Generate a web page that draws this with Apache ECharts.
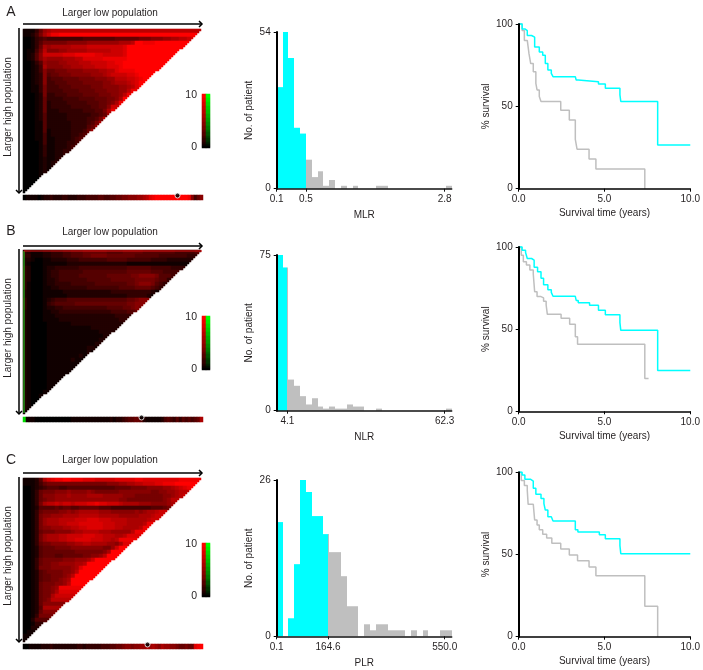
<!DOCTYPE html>
<html>
<head>
<meta charset="utf-8">
<style>html,body{margin:0;padding:0;background:#fff}#main{width:703px;height:670px}</style>
<script src="https://cdn.jsdelivr.net/npm/echarts@6/dist/echarts.min.js"></script>
</head>
<body>
<div id="main"></div>
<script>
// heat maps: one hex digit per cell, read row by row from the triangles (0 black, f full red)
var heatA = [
  '111369abbbbbbbbbbbbbbbbbbbbbbbbbbbbbbbbbbbbbb','11247aceefffffffffffffffffffffffffffffffffff','0013454444444445555555566666677788899aabbcdeff',
  '001357777778888899999999aaabffeeefffffffffffff','00136a9aaaaabbbbcccccccccdfffffffffffffffffff','01147b88899aaaaabbbbbbcccdffffffffffffffffff',
  '01258cccccdddeeeeeddcccccdfffffffffffffffff','01258a9999aaabbdddddeeeeeefffffffffffffff','00135988899aaabbbccccddeeffffffffffffff',
  '00124a888899aaabbbcccdddefffffffffff','0012486677788889999aabbdeeeeffffff','00123856677788888999abccccddeff',
  '00123845556666777788899bbbccdef','00123844555666677777889aaabcdf','00113744455566666777888899abdf',
  '00113744445555666677788899be','0001273344455556666777889be','000126333344445555666778af',
  '00012623333444445556678ae','0001262333334444455668c','000126222333333444557ae',
  '00012522222333333445 69d'.split(' ').join(''),'000125222223333344 57b'.split(' ').join(''),'00011522222233334 57a'.split(' ').join(''),
  '0001152222223333569','000115122222333469','00011412222233458','0001141122223457','000014112223346',
  '00001311222345','0000131122335','000013112234','0000121123','000012123','00001212','0000121','000012','00001','0001','001','01'
];
var heatB = [
  '321112233344555666666555566666555555554444455','331112233344555667777666666655555544444443333','22100112222333444444455555444444333322222222',
  '2100011111122222222222222211111111111111111','3200012233333344444444444455555544444333','3200012334444445555555555566666655544442',
  '32000123344444555555566666677888875554','32000122344444445555556666667777765532','3100012233334444445555555566788875431',
  '310001122333333344444444555566665432','2100011111222222222222333333333321','2100011111122222222222222233333211',
  '310001234445555555555555556678886','310001345555566666666666667788873','31000122334444444444455556678752',
  '2100011223333333333333444455641','210001112222222222222223333432','21000111122222222222222233321',
  '2100001111112222222222222221','210000111111111112222222221','2100001111111111111222221',
  '21000011111111111111221','2100001111111111111221','2100001111111111112 21'.split(' ').join(''),'21000011111111112 21'.split(' ').join(''),
  '210000111111111121','21000011111111 21'.split(' ').join(''),'21000011111121','2100001111111','210000111111','21000011111','2100001111','210000111','21000011','2100001','210001','21001','2100','210','21','1'
];
var heatC = [
  '11125acdeeffeeedddcccccdddddeedddddddddeeeeee','11124677777777777777788899aabbcccddeeefffff','0012345554455555555555566667777888899abcdef',
  '00136777888988889877777788888888778899abb','00136888999a9999aaaa999998887777777889abc','0013678899999999999999998877777777789b',
  '00137abbcbccbcccddeddcccbaaaa99988889a','0012555565665566666555444444444455567a','00136777788989aaaaa999888888989aabc',
  '0013788999aaaabbbbbaaaaa99999aaabc','001379aaabbbbcccdddcccbbbbaaaaabc','001379aaabbcccddddddcccbbbaaaabe',
  '0013788999aabbccddddcccbbaaaabe','0013677788889aabbbbaaa99999be','001379aaabbccccdddccbbbaabd',
  '001379aaabbccddddcccbbabe','0013677888899aabbaaaa998ad','00125666777788888888779cf',
  '001256666666677777778af','00125666556666677889bf','0013677777888999acf',
  '0013677889999aabf','0013777888889adf','0012567777889bf','001256677789bf',
  '0012566778 9af'.split(' ').join(''),'00126777889bf','00126778 9e'.split(' ').join(''),'00126778ad','0012677ac','0012678b','001268','00125a','001268','00137','0025','0013','002','01','1','1'
];
// bottom strips under the triangles, g marks the green end cell
var stripA = '0111101223' + '2223322233' + '3444455445' + '5667788899' + 'abdeffffff' + 'fffffe8468';
var stripB = 'g111000000' + '0000001111' + '1111111112' + '1223455665' + '2111112454' + '353545456a';
var stripC = '0011112223' + '2222222233' + '2333334445' + '5667887889' + '9a9a98a998' + '8766766def';
var dotA = 51, dotB = 39, dotC = 41;
var colorLevels = ['f','f','e','e','d','d','c','c','b','b','a','a','9','9','8','8','7','7','6','5','5','4','3','3','2','1','0'];

// histograms, 30 bins each
var countsMLR = [35,54,45,21,19,10,4,6,1,3,0,1,0,1,0,0,0,1,1,0,0,0,0,0,0,0,0,0,0,1];
var countsNLR = [75,69,15,12,7,3,6,2,1,2,1,1,3,2,2,0,0,1,0,0,0,0,0,0,0,0,0,0,0,1];
var countsPLR = [19,0,3,12,26,24,20,20,17,14,14,10,5,5,0,2,1,2,2,1,1,1,0,1,0,1,0,0,1,1];
var ticksMLR = [0,5,28.8], labelsMLR = ['0.1','0.5','2.8'];
var ticksNLR = [1.83,28.8], labelsNLR = ['4.1','62.3'];
var ticksPLR = [0,8.8,28.8], labelsPLR = ['0.1','164.6','550.0'];
var cutMLR = 5, cutNLR = 1.83, cutPLR = 8.8;

// survival curves, step times and survival after the step
var kmACyanT = [0,0.2,0.36,0.5,0.75,0.93,1.2,1.4,1.55,1.7,1.9,2.0,3.3,3.35,3.47,4.65,5.05,5.9,5.95,8.1,10];
var kmACyanS = [100,97,96,93,92,86,83,81,76,72,70,68,68,66,65,63.5,61,57,53,26.5,26.5];
var kmAGreyT = [0,0.2,0.33,0.5,0.6,0.7,0.85,1.0,1.07,1.2,1.3,2.45,2.95,3.3,3.4,4.1,4.5,7.35];
var kmAGreyS = [100,96,90,89,82,76,71,64,60,56,53,47.7,41.7,30,24,18,12,0];
var kmBCyanT = [0,0.2,0.4,0.5,0.75,0.9,1.1,1.3,1.45,1.7,1.9,2.0,3.3,3.35,3.47,4.13,4.65,5.05,5.9,5.95,8.1,10];
var kmBCyanS = [100,98,96.7,93,92,87.6,85,81,77,74,72.4,70,70,67.5,66,64.5,61.5,58.8,54,49.3,24.8,24.8];
var kmBGreyT = [0,0.15,0.27,0.45,0.65,0.85,0.93,1.07,1.3,1.45,1.6,1.67,2.47,2.97,3.3,3.43,7.35,7.57];
var kmBGreyS = [100,95,91,89,86,83.4,72.8,69.8,69,67,64.7,59,56.6,53,45.4,40.8,20,20];
var kmCCyanT = [0,0.2,0.36,0.7,0.85,1.0,1.3,1.47,1.55,1.7,1.9,2.0,3.3,3.45,4.7,5.05,5.9,5.95,10];
var kmCCyanS = [100,98.4,95.7,94.7,90.3,86.6,84,81,77,73,72,70.4,65,63.7,62,59.6,55.4,50.5,50.5];
var kmCGreyT = [0,0.15,0.33,0.5,0.55,0.85,0.93,1.07,1.2,1.4,1.63,1.93,2.45,2.95,3.43,4.1,4.5,7.35,8.1];
var kmCGreyS = [100,95,92,89,80.5,80,71,68,65,62.3,60,56.8,53.3,49.7,46.2,42.4,37,18.5,0];

var INK = '#231f20', CYAN = '#00ffff', GREY = '#bfbfbf', FONT = '"Liberation Sans", Arial, sans-serif';

function level(ch) {
  return ch === 'g' ? -13 : parseInt(ch, 16);
}
function zip(a, b) {
  return a.map(function (v, i) { return [v, b[i]]; });
}

var panels = [
  { letter: 'A', heat: heatA, strip: stripA, dot: dotA, heatTop: 29, stripTop: 195, barTop: 94, titleY: 13, arrowY: 24, letterY: 12,
    histTop: 32, histBottom: 188.7, kmTop: 24, kmBottom: 188.7, counts: countsMLR, ticks: ticksMLR, labels: labelsMLR, cut: cutMLR, name: 'MLR',
    cyan: zip(kmACyanT, kmACyanS), grey: zip(kmAGreyT, kmAGreyS) },
  { letter: 'B', heat: heatB, strip: stripB, dot: dotB, heatTop: 250, stripTop: 417, barTop: 316, titleY: 232, arrowY: 246, letterY: 231,
    histTop: 255, histBottom: 410.7, kmTop: 247, kmBottom: 411.3, counts: countsNLR, ticks: ticksNLR, labels: labelsNLR, cut: cutNLR, name: 'NLR', edge: true,
    cyan: zip(kmBCyanT, kmBCyanS), grey: zip(kmBGreyT, kmBGreyS) },
  { letter: 'C', heat: heatC, strip: stripC, dot: dotC, heatTop: 478, stripTop: 644, barTop: 543, titleY: 460, arrowY: 473, letterY: 460,
    histTop: 480, histBottom: 636.3, kmTop: 472.3, kmBottom: 636.7, counts: countsPLR, ticks: ticksPLR, labels: labelsPLR, cut: cutPLR, name: 'PLR',
    cyan: zip(kmCCyanT, kmCCyanS), grey: zip(kmCGreyT, kmCGreyS) }
];

var grids = [], xAxes = [], yAxes = [], series = [], graphics = [], heatSeries = [];

function addGrid(left, top, width, height, xAxis, yAxis) {
  var i = grids.length;
  grids.push({ left: left, top: top, width: width, height: height, containLabel: false });
  xAxis.gridIndex = i;
  yAxis.gridIndex = i;
  xAxes.push(xAxis);
  yAxes.push(yAxis);
  return i;
}
function hiddenCat(n, inverse) {
  var d = [];
  for (var i = 0; i < n; i++) d.push(i);
  return { type: 'category', data: d, show: false, inverse: !!inverse };
}
function addHeat(idx, data) {
  heatSeries.push(series.length);
  series.push({ type: 'heatmap', xAxisIndex: idx, yAxisIndex: idx, data: data, silent: true, progressive: 0, animation: false });
}
function text(str, x, y, size, rot) {
  graphics.push({ type: 'text', x: x, y: y, rotation: rot || 0, silent: true,
    style: { text: str, fill: INK, font: size + 'px ' + FONT, textAlign: 'center', textVerticalAlign: 'middle' } });
}
function arrow(x1, y1, x2, y2) {
  var dx = x2 > x1 ? 1 : 0;
  graphics.push({ type: 'line', silent: true, shape: { x1: x1, y1: y1, x2: x2, y2: y2 }, style: { stroke: '#000', lineWidth: 1.5 } });
  graphics.push({ type: 'polyline', silent: true,
    shape: { points: dx ? [[x2 - 3, y2 - 3], [x2, y2], [x2 - 3, y2 + 3]] : [[x2 - 3, y2 - 3], [x2, y2], [x2 + 3, y2 - 3]] },
    style: { stroke: '#000', lineWidth: 1.5, fill: null } });
}

var COLS = 90, ROWS = 82;
panels.forEach(function (p) {
  // triangle: fine cells take the digit of the matrix cell they fall in
  var cells = [];
  for (var r = 0; r < ROWS; r++) {
    var row = p.heat[Math.floor(r / 2)];
    for (var c = 0; c < COLS; c++) {
      if ((c + 0.5) / COLS + (r + 0.5) / ROWS > 1) break;
      var k = Math.min(Math.floor(c / 2), row.length - 1);
      cells.push([c, r, level(row.charAt(k))]);
    }
  }
  var hx = addGrid(23, p.heatTop, 180, 164, hiddenCat(COLS), hiddenCat(ROWS, true));
  addHeat(hx, cells);
  if (p.edge) {
    series.push({ type: 'line', xAxisIndex: hx, yAxisIndex: hx, data: [[0, 0], [0, ROWS - 1]], showSymbol: false, silent: true,
      lineStyle: { color: '#22dd22', width: 1 }, animation: false });
    series.push({ type: 'line', xAxisIndex: hx, yAxisIndex: hx, data: [[0, 0], [COLS - 1, 0]], showSymbol: false, silent: true,
      lineStyle: { color: '#dd1111', width: 1 }, animation: false });
  }

  // strip with the best cut point dot
  var stripCells = p.strip.split('').map(function (ch, i) { return [i, 0, level(ch)]; });
  var sx = addGrid(23, p.stripTop, 180, 5, hiddenCat(stripCells.length), hiddenCat(1));
  addHeat(sx, stripCells);
  series.push({ type: 'scatter', xAxisIndex: sx, yAxisIndex: sx, data: [[p.dot, 0]], symbolSize: 5, symbolOffset: [0, -2], silent: true, z: 5,
    itemStyle: { color: '#000', borderColor: '#fff', borderWidth: 1 }, animation: false });

  // colour key, red and green columns
  var keyCells = [];
  colorLevels.forEach(function (ch, i) {
    keyCells.push([0, i, level(ch)]);
    keyCells.push([1, i, -level(ch)]);
  });
  var kx = addGrid(202, p.barTop, 8, 54, hiddenCat(2), {
    type: 'category', inverse: true, data: colorLevels.map(function (ch, i) { return i === 0 ? '10' : (i === colorLevels.length - 1 ? '0' : ''); }),
    axisLine: { show: false }, axisTick: { show: false },
    axisLabel: { interval: 0, color: INK, fontFamily: FONT, fontSize: 10.5, margin: 5 }
  });
  addHeat(kx, keyCells);

  // histogram
  var hist = addGrid(276.7, p.histTop, 175, p.histBottom - p.histTop, {
    type: 'value', min: 0, max: 30, z: 10,
    axisLine: { onZero: false, lineStyle: { color: '#111', width: 1.5 } }, splitLine: { show: false },
    axisTick: { length: 3, lineStyle: { color: '#111' }, customValues: p.ticks },
    axisLabel: { customValues: p.ticks, color: INK, fontFamily: FONT, fontSize: 10, margin: 6,
      formatter: (function (pp) { return function (v) { return pp.labels[pp.ticks.indexOf(v)]; }; })(p) },
    name: p.name, nameLocation: 'middle', nameGap: 22, nameTextStyle: { color: INK, fontFamily: FONT, fontSize: 10 }
  }, {
    type: 'value', min: 0, max: Math.max.apply(null, p.counts), interval: Math.max.apply(null, p.counts), z: 10,
    axisLine: { show: true, lineStyle: { color: '#000', width: 2 } }, splitLine: { show: false },
    axisTick: { show: true, length: 3, lineStyle: { color: '#000' } },
    axisLabel: { color: INK, fontFamily: FONT, fontSize: 10, margin: 6 },
    name: 'No. of patient', nameLocation: 'middle', nameGap: 22, nameTextStyle: { color: INK, fontFamily: FONT, fontSize: 10 }
  });
  series.push({
    type: 'custom', xAxisIndex: hist, yAxisIndex: hist, silent: true, animation: false,
    data: p.counts.map(function (v, i) { return [i, v]; }), encode: { x: 0, y: 1 },
    renderItem: (function (cut) {
      return function (params, api) {
        var i = api.value(0), v = api.value(1);
        if (!v) return null;
        var a = api.coord([i, v]), b = api.coord([i + 1, 0]), m = api.coord([cut, 0]);
        var left = Math.round(a[0]), right = Math.round(b[0]), mid = Math.round(m[0]);
        var kids = [];
        function part(x0, x1, col) {
          if (x1 > x0) kids.push({ type: 'rect', shape: { x: x0, y: a[1], width: x1 - x0, height: b[1] - a[1] }, style: { fill: col } });
        }
        part(left, Math.min(right, mid), CYAN);
        part(Math.max(left, mid), right, GREY);
        return { type: 'group', children: kids };
      };
    })(p.cut)
  });

  // survival curves
  var km = addGrid(518.7, p.kmTop, 174.6, p.kmBottom - p.kmTop, {
    type: 'value', min: 0, max: 10, interval: 5, z: 10,
    axisLine: { onZero: false, lineStyle: { color: '#000', width: 1.5 } }, splitLine: { show: false },
    axisTick: { length: 3, lineStyle: { color: '#000' } },
    axisLabel: { color: INK, fontFamily: FONT, fontSize: 10, margin: 6, formatter: function (v) { return v.toFixed(1); } },
    name: 'Survival time (years)', nameLocation: 'middle', nameGap: 20, nameTextStyle: { color: INK, fontFamily: FONT, fontSize: 10 }
  }, {
    type: 'value', min: 0, max: 100, interval: 50, z: 10,
    axisLine: { show: true, lineStyle: { color: '#000', width: 2 } }, splitLine: { show: false },
    axisTick: { show: true, length: 3, lineStyle: { color: '#000' } },
    axisLabel: { color: INK, fontFamily: FONT, fontSize: 10, margin: 6 },
    name: '% survival', nameLocation: 'middle', nameGap: 27, nameTextStyle: { color: INK, fontFamily: FONT, fontSize: 10 }
  });
  series.push({ type: 'line', step: 'end', xAxisIndex: km, yAxisIndex: km, data: p.grey, showSymbol: false, silent: true, clip: false,
    lineStyle: { color: GREY, width: 1.5 }, animation: false });
  series.push({ type: 'line', step: 'end', xAxisIndex: km, yAxisIndex: km, data: p.cyan, showSymbol: false, silent: true, clip: false,
    lineStyle: { color: CYAN, width: 1.5 }, animation: false });

  // labels and arrows around the triangle
  text(p.letter, 11, p.letterY, 14);
  text('Larger low population', 110, p.titleY, 10);
  text('Larger high population', 8, p.heatTop + 78, 10, Math.PI / 2);
  arrow(23, p.arrowY, 202, p.arrowY);
  arrow(19, p.heatTop - 1, 19, p.heatTop + 164);
});

var chart = echarts.init(document.getElementById('main'), null, { renderer: 'canvas' });
chart.setOption({
  animation: false,
  backgroundColor: '#fff',
  grid: grids, xAxis: xAxes, yAxis: yAxes, series: series, graphic: graphics,
  visualMap: { show: false, type: 'continuous', min: -15, max: 15, seriesIndex: heatSeries, inRange: { color: ['#00ff00', '#000000', '#ff0000'] } }
});
</script>
</body>
</html>
